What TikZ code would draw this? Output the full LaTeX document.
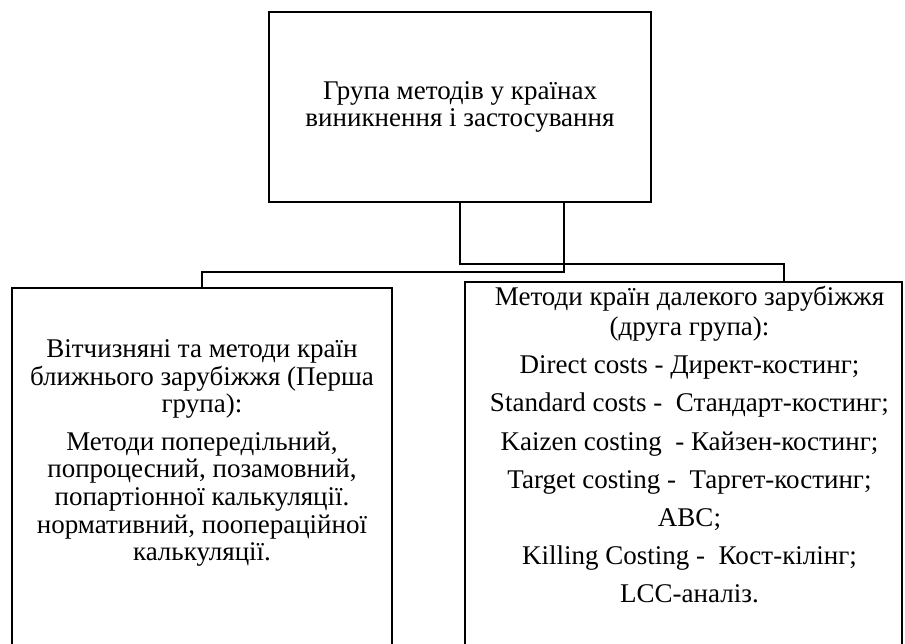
\documentclass[tikz,border=0pt]{standalone}
\usepackage{fontspec}
\setmainfont{Liberation Serif}
\usetikzlibrary{positioning}

\begin{document}
\begin{tikzpicture}[x=0.5pt, y=-0.5pt,
  box/.style={draw, line width=0.8pt, inner sep=0pt},
  txt/.style={align=center, inner sep=0pt, font=\fontsize{13.5}{13.8}\selectfont},
  conn/.style={line width=0.8pt}
]
  \useasboundingbox (0,0) rectangle (905,643);
  \clip (0,0) rectangle (905,643);
  \node[box, txt, minimum width=191pt, minimum height=95pt] (grp) at (460,107)
    {Група методів у країнах\\ виникнення і застосування};
  \node[box, minimum width=190pt, minimum height=191pt] (near) at (202,479) {};
  \node[box, minimum width=218.5pt, minimum height=194pt] (far) at (683.5,476) {};
  \node[txt, below=26pt of near.north] (neartxt)
    {Вітчизняні та методи країн\\ ближнього зарубіжжя (Перша\\ група):\\[5pt]
     Методи попередільний,\\ попроцесний, позамовний,\\ попартіонної калькуляції.\\
     нормативний, поопераційної\\ калькуляції.};
  \node[txt, below=2.5pt of far.north, xshift=3pt] (fartxt)
    {Методи країн далекого зарубіжжя\\[1pt] (друга група):\\[5.3pt]
     Direct costs - Директ-костинг;\\[5.3pt]
     Standard costs -~ Стандарт-костинг;\\[5.3pt]
     Kaizen costing~ - Кайзен-костинг;\\[5.3pt]
     Target costing -~ Таргет-костинг;\\[5.3pt]
     ABC;\\[5.3pt]
     Killing Costing -~ Кост-кілінг;\\[5.3pt]
     LCC-аналіз.};
  \draw[conn] (grp.south) -- ++(0,61) -| ([xshift=50.25pt]far.north);
  \draw[conn] ([xshift=52pt]grp.south) -- ++(0,69) -| (near.north);
\end{tikzpicture}
\end{document}
